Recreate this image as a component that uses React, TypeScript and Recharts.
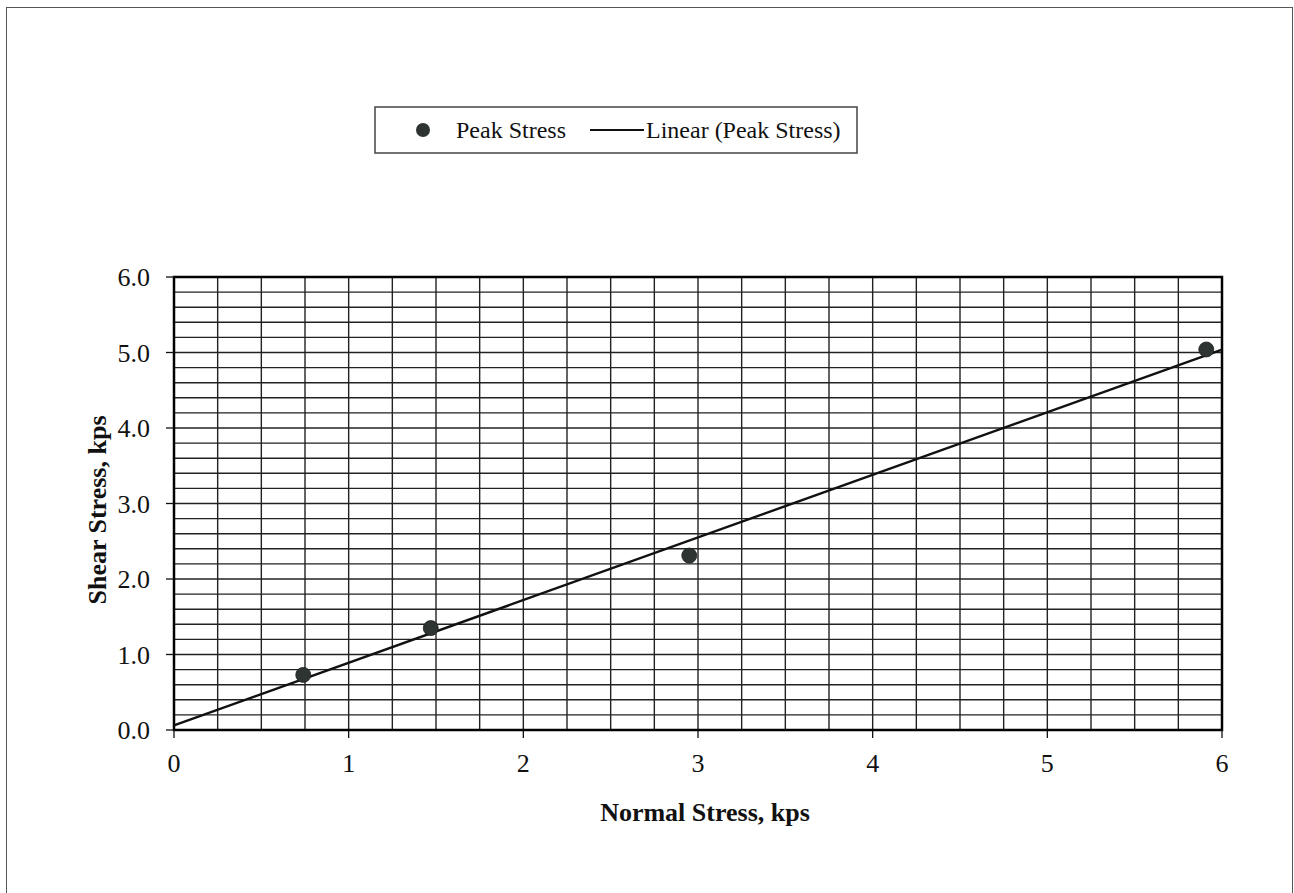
import { CartesianGrid, ReferenceArea, Scatter, ScatterChart, XAxis, YAxis } from "recharts";

// Peak stress readings (normal stress vs shear stress, kps)
const normalStress = [0.74, 1.47, 2.95, 5.91];
const shearStress = [0.73, 1.35, 2.31, 5.04];

const xTicks = [0, 0.25, 0.5, 0.75, 1, 1.25, 1.5, 1.75, 2, 2.25, 2.5, 2.75, 3, 3.25, 3.5, 3.75, 4, 4.25, 4.5, 4.75, 5, 5.25, 5.5, 5.75, 6];
const yTicks = [0, 0.2, 0.4, 0.6, 0.8, 1, 1.2, 1.4, 1.6, 1.8, 2, 2.2, 2.4, 2.6, 2.8, 3, 3.2, 3.4, 3.6, 3.8, 4, 4.2, 4.4, 4.6, 4.8, 5, 5.2, 5.4, 5.6, 5.8, 6];
const trendRange = [0, 6];

const FONT = "Liberation Serif, Times New Roman, serif";
const DOT = "#2e3431";

const peakData = normalStress.map((x, i) => ({ x, y: shearStress[i] }));

// least squares fit, like the spreadsheet's linear trendline
function linearFit(xs: number[], ys: number[]) {
  const n = xs.length;
  const mx = xs.reduce((a, b) => a + b, 0) / n;
  const my = ys.reduce((a, b) => a + b, 0) / n;
  let sxy = 0;
  let sxx = 0;
  xs.forEach((x, i) => {
    sxy += (x - mx) * (ys[i] - my);
    sxx += (x - mx) * (x - mx);
  });
  const slope = sxy / sxx;
  return { slope, intercept: my - slope * mx };
}

const fit = linearFit(normalStress, shearStress);
const trendData = trendRange.map((x) => ({ x, y: fit.intercept + fit.slope * x }));

const isMajor = (v: number) => Math.abs(v - Math.round(v)) < 1e-6;

function XTick(props: any) {
  const { x, y, payload } = props;
  if (!isMajor(payload.value)) return <g />;
  return (
    <g>
      <line x1={x} y1={y} x2={x} y2={y + 8} stroke="#111" strokeWidth={1.3} />
      <text x={x} y={y + 42} textAnchor="middle" fontFamily={FONT} fontSize={26} fill="#111">
        {Math.round(payload.value)}
      </text>
    </g>
  );
}

function YTick(props: any) {
  const { x, y, payload } = props;
  if (!isMajor(payload.value)) return <g />;
  return (
    <g>
      <line x1={x} y1={y} x2={x - 8} y2={y} stroke="#111" strokeWidth={1.3} />
      <text x={x - 24} y={y} dy="0.35em" textAnchor="end" fontFamily={FONT} fontSize={26} fill="#111">
        {payload.value.toFixed(1)}
      </text>
    </g>
  );
}

function Legend() {
  return (
    <svg width={484} height={48} style={{ position: "absolute", left: 374, top: 106 }}>
      <rect x={1} y={1} width={482} height={46} fill="#fff" stroke="#444" strokeWidth={1.5} />
      <circle cx={49} cy={24} r={7} fill={DOT} />
      <text x={82} y={24} dy="0.35em" fontFamily={FONT} fontSize={24} fill="#111">
        Peak Stress
      </text>
      <line x1={216} y1={24} x2={270} y2={24} stroke="#111" strokeWidth={2} />
      <text x={272} y={24} dy="0.35em" fontFamily={FONT} fontSize={24} fill="#111">
        Linear (Peak Stress)
      </text>
    </svg>
  );
}

export default function App() {
  return (
    <div style={{ position: "absolute", left: 0, top: 0, width: 1294, height: 893, overflow: "hidden", background: "#fff" }}>
      <div
        style={{
          position: "absolute",
          left: 6,
          top: 7,
          width: 1285,
          height: 900,
          border: "1.5px solid #555",
        }}
      />
      <div style={{ position: "absolute", left: 0, top: 0 }}>
        <ScatterChart width={1294} height={893} margin={{ top: 277, right: 72, bottom: 83, left: 74 }}>
          <CartesianGrid stroke="#222" strokeWidth={1.4} />
          <XAxis
            type="number"
            dataKey="x"
            domain={[0, 6]}
            ticks={xTicks}
            interval={0}
            height={80}
            tickSize={0}
            tickMargin={0}
            tickLine={false}
            axisLine={false}
            tick={<XTick />}
            label={{
              content: () => (
                <text x={705} y={821} textAnchor="middle" fontFamily={FONT} fontWeight="bold" fontSize={26} fill="#111">
                  Normal Stress, kps
                </text>
              ),
            }}
          />
          <YAxis
            type="number"
            dataKey="y"
            domain={[0, 6]}
            ticks={yTicks}
            interval={0}
            width={100}
            tickSize={0}
            tickMargin={0}
            tickLine={false}
            axisLine={false}
            tick={<YTick />}
            label={{
              content: () => {
                const cx = 97;
                const cy = 510;
                return (
                  <text
                    x={cx}
                    y={cy}
                    dy="0.35em"
                    textAnchor="middle"
                    transform={`rotate(-90 ${cx} ${cy})`}
                    fontFamily={FONT}
                    fontWeight="bold"
                    fontSize={26}
                    fill="#111"
                  >
                    Shear Stress, kps
                  </text>
                );
              },
            }}
          />
          <ReferenceArea x1={0} x2={6} y1={0} y2={6} fill="none" stroke="#000" strokeWidth={2.5} fillOpacity={0} />
          <Scatter
            name="Linear (Peak Stress)"
            data={trendData}
            line={{ stroke: "#111", strokeWidth: 2.4 }}
            shape={() => <g />}
            isAnimationActive={false}
          />
          <Scatter
            name="Peak Stress"
            data={peakData}
            fill={DOT}
            shape={(p: any) => <circle cx={p.cx} cy={p.cy} r={7.5} fill={DOT} stroke="#1c201e" strokeWidth={0.8} />}
            isAnimationActive={false}
          />
        </ScatterChart>
      </div>
      <Legend />
    </div>
  );
}
